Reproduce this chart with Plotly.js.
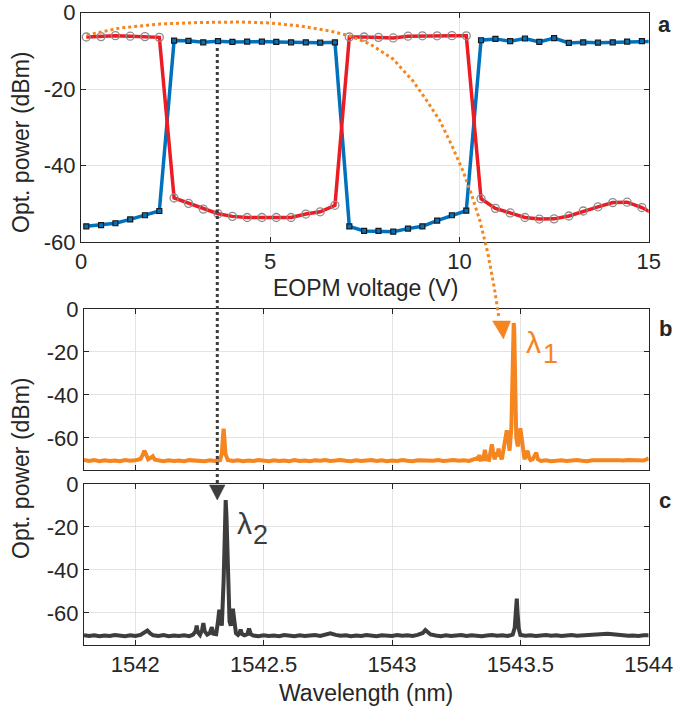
<!DOCTYPE html>
<html>
<head>
<meta charset="utf-8">
<script src="https://cdn.plot.ly/plotly-3.0.1.min.js"></script>
<style>html,body{margin:0;padding:0;background:#fff;}#chart{width:674px;height:710px;}</style>
</head>
<body>
<div id="chart"></div>
<script>
// ---------- Panel a data ----------
const voltage = [0.14,0.53,0.91,1.30,1.69,2.07,2.46,2.84,3.23,3.62,4.00,4.39,4.78,5.16,5.55,5.94,6.32,6.71,7.09,7.48,7.86,8.25,8.64,9.02,9.41,9.80,10.18,10.57,10.95,11.34,11.73,12.11,12.50,12.89,13.27,13.66,14.05,14.43,14.82,15.20];
const powerRed = [-6.4,-6.3,-6.05,-6.2,-6.3,-6.5,-48.5,-49.9,-51.4,-52.6,-53.3,-53.6,-53.6,-53.6,-53.6,-52.7,-52.1,-50.4,-6.4,-6.4,-6.5,-6.65,-6.2,-6.1,-6.1,-6.05,-6.1,-48.7,-51.2,-52.4,-53.6,-54.0,-53.95,-53.2,-51.9,-50.8,-49.7,-49.6,-51.0,-53.0];
const powerBlue = [-55.9,-55.6,-55.1,-54.1,-53.0,-51.9,-7.35,-7.4,-7.8,-7.5,-7.7,-7.6,-7.6,-7.7,-7.8,-7.8,-7.9,-7.8,-55.9,-57.1,-57.1,-57.3,-56.5,-55.9,-54.4,-53.0,-51.8,-7.25,-6.9,-7.5,-6.8,-7.7,-6.7,-7.95,-7.8,-7.9,-7.8,-7.6,-7.5,-7.5];

// ---------- Panel b data (orange spectrum) ----------
const wlB = [1541.80,1541.82,1541.84,1541.86,1541.88,1541.90,1541.92,1541.94,1541.96,1541.98,1542.00,1542.02,1542.03,1542.035,1542.042,1542.05,1542.06,1542.068,1542.076,1542.09,1542.11,1542.13,1542.15,1542.17,1542.19,1542.21,1542.23,1542.25,1542.27,1542.29,1542.31,1542.33,1542.337,1542.341,1542.344,1542.347,1542.351,1542.36,1542.38,1542.40,1542.42,1542.44,1542.46,1542.48,1542.50,1542.52,1542.54,1542.56,1542.58,1542.60,1542.62,1542.64,1542.66,1542.68,1542.70,1542.72,1542.74,1542.76,1542.78,1542.80,1542.82,1542.84,1542.86,1542.88,1542.90,1542.92,1542.94,1542.96,1542.98,1543.00,1543.02,1543.04,1543.06,1543.08,1543.10,1543.12,1543.14,1543.16,1543.18,1543.20,1543.22,1543.24,1543.26,1543.28,1543.30,1543.32,1543.33,1543.335,1543.34,1543.345,1543.355,1543.362,1543.368,1543.378,1543.385,1543.389,1543.394,1543.40,1543.405,1543.41,1543.415,1543.42,1543.428,1543.438,1543.443,1543.447,1543.452,1543.458,1543.465,1543.469,1543.472,1543.474,1543.476,1543.479,1543.484,1543.49,1543.496,1543.50,1543.505,1543.51,1543.516,1543.522,1543.528,1543.535,1543.54,1543.548,1543.556,1543.562,1543.568,1543.58,1543.60,1543.62,1543.64,1543.66,1543.68,1543.70,1543.72,1543.74,1543.76,1543.78,1543.80,1543.82,1543.84,1543.86,1543.88,1543.90,1543.92,1543.94,1543.96,1543.98,1544.00];
const pB = [-70.3,-70.8,-70.4,-70.9,-70.5,-70.8,-70.6,-70.9,-70.4,-70.7,-70.5,-69.9,-67.6,-66.0,-67.8,-70.0,-69.3,-68.6,-70.2,-70.6,-70.9,-70.5,-70.8,-70.6,-70.9,-70.4,-70.7,-70.6,-70.9,-70.5,-70.8,-70.4,-67.5,-60.0,-55.8,-60.0,-67.5,-70.3,-70.8,-70.5,-70.9,-70.6,-70.8,-70.4,-70.7,-70.9,-70.5,-70.8,-70.6,-70.9,-70.4,-70.8,-70.6,-70.9,-70.5,-70.7,-70.4,-70.8,-70.6,-70.3,-70.7,-70.9,-70.5,-70.8,-70.6,-70.4,-70.8,-70.5,-70.9,-70.6,-70.8,-70.4,-70.7,-70.9,-70.5,-70.6,-70.9,-70.7,-70.4,-70.8,-70.6,-70.3,-70.7,-70.5,-70.8,-70.2,-69.6,-70.3,-68.0,-70.2,-70.0,-65.6,-70.0,-70.3,-66.0,-63.0,-67.0,-70.0,-68.0,-68.5,-65.0,-68.0,-70.0,-63.0,-57.5,-56.5,-60.0,-66.0,-55.0,-30.0,-9.0,-6.5,-9.0,-30.0,-60.0,-64.0,-58.0,-55.6,-60.0,-67.0,-70.0,-68.0,-66.0,-69.5,-70.4,-70.0,-68.5,-67.0,-70.0,-70.8,-70.5,-70.9,-70.7,-70.5,-70.8,-70.6,-70.3,-70.7,-70.9,-70.5,-70.6,-70.3,-70.7,-70.5,-70.4,-70.6,-70.3,-70.5,-70.4,-70.6,-69.6];

// ---------- Panel c data (dark spectrum) ----------
const wlC = [1541.80,1541.82,1541.84,1541.86,1541.88,1541.90,1541.92,1541.94,1541.96,1541.98,1542.00,1542.02,1542.035,1542.047,1542.058,1542.07,1542.09,1542.11,1542.13,1542.15,1542.17,1542.19,1542.21,1542.225,1542.235,1542.239,1542.243,1542.252,1542.26,1542.265,1542.27,1542.28,1542.29,1542.298,1542.304,1542.315,1542.322,1542.327,1542.332,1542.337,1542.344,1542.349,1542.352,1542.355,1542.36,1542.367,1542.372,1542.377,1542.38,1542.385,1542.392,1542.40,1542.406,1542.41,1542.415,1542.425,1542.436,1542.443,1542.45,1542.46,1542.48,1542.50,1542.52,1542.54,1542.56,1542.58,1542.60,1542.62,1542.64,1542.66,1542.68,1542.70,1542.72,1542.74,1542.76,1542.78,1542.80,1542.82,1542.84,1542.86,1542.88,1542.90,1542.92,1542.94,1542.96,1542.98,1543.00,1543.02,1543.04,1543.06,1543.08,1543.10,1543.12,1543.13,1543.14,1543.15,1543.17,1543.19,1543.21,1543.23,1543.25,1543.27,1543.29,1543.31,1543.33,1543.35,1543.37,1543.39,1543.41,1543.43,1543.45,1543.47,1543.478,1543.483,1543.486,1543.489,1543.494,1543.50,1543.52,1543.54,1543.56,1543.58,1543.60,1543.62,1543.64,1543.66,1543.68,1543.70,1543.72,1543.74,1543.76,1543.78,1543.80,1543.82,1543.84,1543.86,1543.88,1543.90,1543.92,1543.94,1543.96,1543.98,1544.00];
const pC = [-70.4,-70.8,-70.5,-70.9,-70.6,-70.8,-70.4,-70.7,-70.9,-70.5,-70.8,-70.3,-69.2,-68.3,-69.6,-70.5,-70.8,-70.4,-70.9,-70.6,-70.8,-70.5,-70.9,-70.2,-68.5,-66.0,-69.0,-70.3,-68.0,-64.8,-68.5,-70.2,-69.5,-66.7,-69.8,-70.0,-64.0,-58.6,-63.0,-66.0,-45.0,-15.0,-7.5,-15.0,-45.0,-64.0,-66.0,-61.0,-58.1,-63.0,-69.5,-70.3,-69.5,-67.8,-69.8,-70.5,-70.0,-67.4,-70.0,-70.6,-70.9,-70.5,-70.8,-70.6,-70.9,-70.4,-70.7,-70.9,-70.5,-70.8,-70.6,-70.4,-70.8,-70.2,-69.6,-70.3,-70.7,-70.5,-70.9,-70.6,-70.8,-70.4,-70.7,-70.9,-70.5,-70.6,-70.8,-70.4,-70.7,-70.5,-70.8,-70.3,-69.4,-68.0,-69.0,-70.1,-70.6,-70.9,-70.5,-70.8,-70.6,-70.4,-70.8,-70.5,-70.7,-70.9,-70.6,-70.4,-70.7,-70.5,-70.8,-70.2,-67.0,-60.0,-53.4,-60.0,-67.5,-70.3,-70.7,-70.5,-70.8,-70.6,-70.4,-70.7,-70.5,-70.8,-70.6,-70.4,-70.7,-70.5,-70.3,-70.2,-69.9,-70.1,-69.8,-70.0,-70.3,-70.5,-70.7,-70.6,-70.8,-70.5,-70.4];

// ---------- Tick labels ----------
const ticksVoltage = [0,5,10,15];
const ticksVoltageText = ['0','5','10','15'];
const ticksPower = [0,-20,-40,-60];
const ticksPowerText = ['0','-20','-40','-60'];
const ticksWl = [1542,1542.5,1543,1543.5,1544];
const ticksWlText = ['1542','1542.5','1543','1543.5','1544'];

// ---------- Styling ----------
const W = 674, H = 710;
const FONT = 'Liberation Sans, Arial, Helvetica, sans-serif';
const TXT = '#262626';
const GRID = '#e3e3e3';
const RED = '#ec1c24';
const BLUE = '#0072bd';
const ORANGE = '#f5851f';
const DARK = '#3d3d3d';
const fx = v => v / W;
const fy = v => 1 - v / H;

function axisBase(extra) {
  return Object.assign({
    showline: true, mirror: 'allticks', linecolor: TXT, linewidth: 1,
    ticks: 'inside', ticklen: 5, tickwidth: 1, tickcolor: TXT,
    showgrid: true, gridcolor: GRID, gridwidth: 1, zeroline: false,
    ticklabeloverflow: 'allow',
    tickfont: {family: FONT, size: 22, color: TXT}, fixedrange: true
  }, extra);
}

const traces = [
  {x: voltage, y: powerBlue, xaxis: 'x', yaxis: 'y', mode: 'lines+markers', cliponaxis: true,
   line: {color: BLUE, width: 3.5},
   marker: {symbol: 'square', size: 5, color: BLUE, line: {color: '#1a1a1a', width: 1.2}}},
  {x: voltage, y: powerRed, xaxis: 'x', yaxis: 'y', mode: 'lines+markers', cliponaxis: true,
   line: {color: RED, width: 3.5},
   marker: {symbol: 'circle-open', size: 8, color: '#8c8c8c', line: {color: '#8c8c8c', width: 1.3}}},
  {x: wlB, y: pB, xaxis: 'x2', yaxis: 'y2', mode: 'lines', line: {color: ORANGE, width: 4}},
  {x: wlC, y: pC, xaxis: 'x3', yaxis: 'y3', mode: 'lines', line: {color: DARK, width: 4}}
];

// Annotation arrows (decorations, in pixel positions converted to paper)
const orangeCurvePx = [[87,35],[120,28],[160,24],[200,22.5],[240,22],[270,23],[300,26],[330,31],[350,36],[370,44],[393,59],[413,81],[427,101],[440,121],[453,148],[463,171],[472,196],[480,221],[488,254],[494,286],[499,318]];
const orangePath = orangeCurvePx.map((p, i) => (i ? 'L' : 'M') + fx(p[0]).toFixed(5) + ',' + fy(p[1]).toFixed(5)).join(' ');
const triPath = pts => pts.map((p, i) => (i ? 'L' : 'M') + fx(p[0]).toFixed(5) + ',' + fy(p[1]).toFixed(5)).join(' ') + ' Z';

const shapes = [
  {type: 'path', xref: 'paper', yref: 'paper', path: orangePath, layer: 'above',
   line: {color: ORANGE, width: 3, dash: 'dot'}},
  {type: 'path', xref: 'paper', yref: 'paper', path: triPath([[492.5,321],[510.5,321],[503.5,339]]), layer: 'above',
   fillcolor: ORANGE, line: {color: ORANGE, width: 0.5}},
  {type: 'line', xref: 'paper', yref: 'paper', x0: fx(217.3), x1: fx(217.3), y0: fy(48), y1: fy(486), layer: 'above',
   line: {color: DARK, width: 3, dash: 'dot'}},
  {type: 'path', xref: 'paper', yref: 'paper', path: triPath([[209.5,485],[225,485],[217.3,500]]), layer: 'above',
   fillcolor: DARK, line: {color: DARK, width: 0.5}}
];

function txt(text, x, y, size, opts) {
  return Object.assign({text: text, xref: 'paper', yref: 'paper', x: fx(x), y: fy(y),
    xanchor: 'center', yanchor: 'middle', showarrow: false,
    font: {family: FONT, size: size, color: TXT}}, opts || {});
}

const annotations = [
  txt('EOPM voltage (V)', 365, 288, 23),
  txt('Wavelength (nm)', 366, 693, 23),
  txt('Opt. power (dBm)', 21, 142, 23, {textangle: -90}),
  txt('Opt. power (dBm)', 21, 468, 23, {textangle: -90}),
  txt('<b>a</b>', 664, 25, 22),
  txt('<b>b</b>', 665, 328, 22),
  txt('<b>c</b>', 665, 501, 22),
  txt('λ', 533, 342, 30, {font: {family: FONT, size: 30, color: ORANGE}}),
  txt('1', 550, 354, 27, {font: {family: FONT, size: 27, color: ORANGE}}),
  txt('λ', 244, 523, 30, {font: {family: FONT, size: 30, color: DARK}}),
  txt('2', 260, 535, 27, {font: {family: FONT, size: 27, color: DARK}})
];

const layout = {
  width: W, height: H,
  margin: {l: 0, r: 0, t: 0, b: 0},
  paper_bgcolor: '#ffffff', plot_bgcolor: '#ffffff',
  showlegend: false,
  font: {family: FONT, color: TXT},
  xaxis: axisBase({domain: [fx(81), fx(648.7)], range: [0, 15], anchor: 'y',
    tickmode: 'array', tickvals: ticksVoltage, ticktext: ticksVoltageText}),
  yaxis: axisBase({domain: [fy(242), fy(12.5)], range: [-60, 0], anchor: 'x',
    tickmode: 'array', tickvals: ticksPower, ticktext: ticksPowerText}),
  xaxis2: axisBase({domain: [fx(84), fx(648.7)], range: [1541.8, 1544], anchor: 'y2',
    tickmode: 'array', tickvals: ticksWl, ticktext: ticksWlText, showticklabels: false}),
  yaxis2: axisBase({domain: [fy(470), fy(309)], range: [-75, 0], anchor: 'x2',
    tickmode: 'array', tickvals: ticksPower, ticktext: ticksPowerText}),
  xaxis3: axisBase({domain: [fx(84), fx(648.7)], range: [1541.8, 1544], anchor: 'y3',
    tickmode: 'array', tickvals: ticksWl, ticktext: ticksWlText}),
  yaxis3: axisBase({domain: [fy(645), fy(484)], range: [-75, 0], anchor: 'x3',
    tickmode: 'array', tickvals: ticksPower, ticktext: ticksPowerText}),
  shapes: shapes,
  annotations: annotations
};

Plotly.newPlot('chart', traces, layout, {displayModeBar: false, staticPlot: true});
</script>
</body>
</html>
